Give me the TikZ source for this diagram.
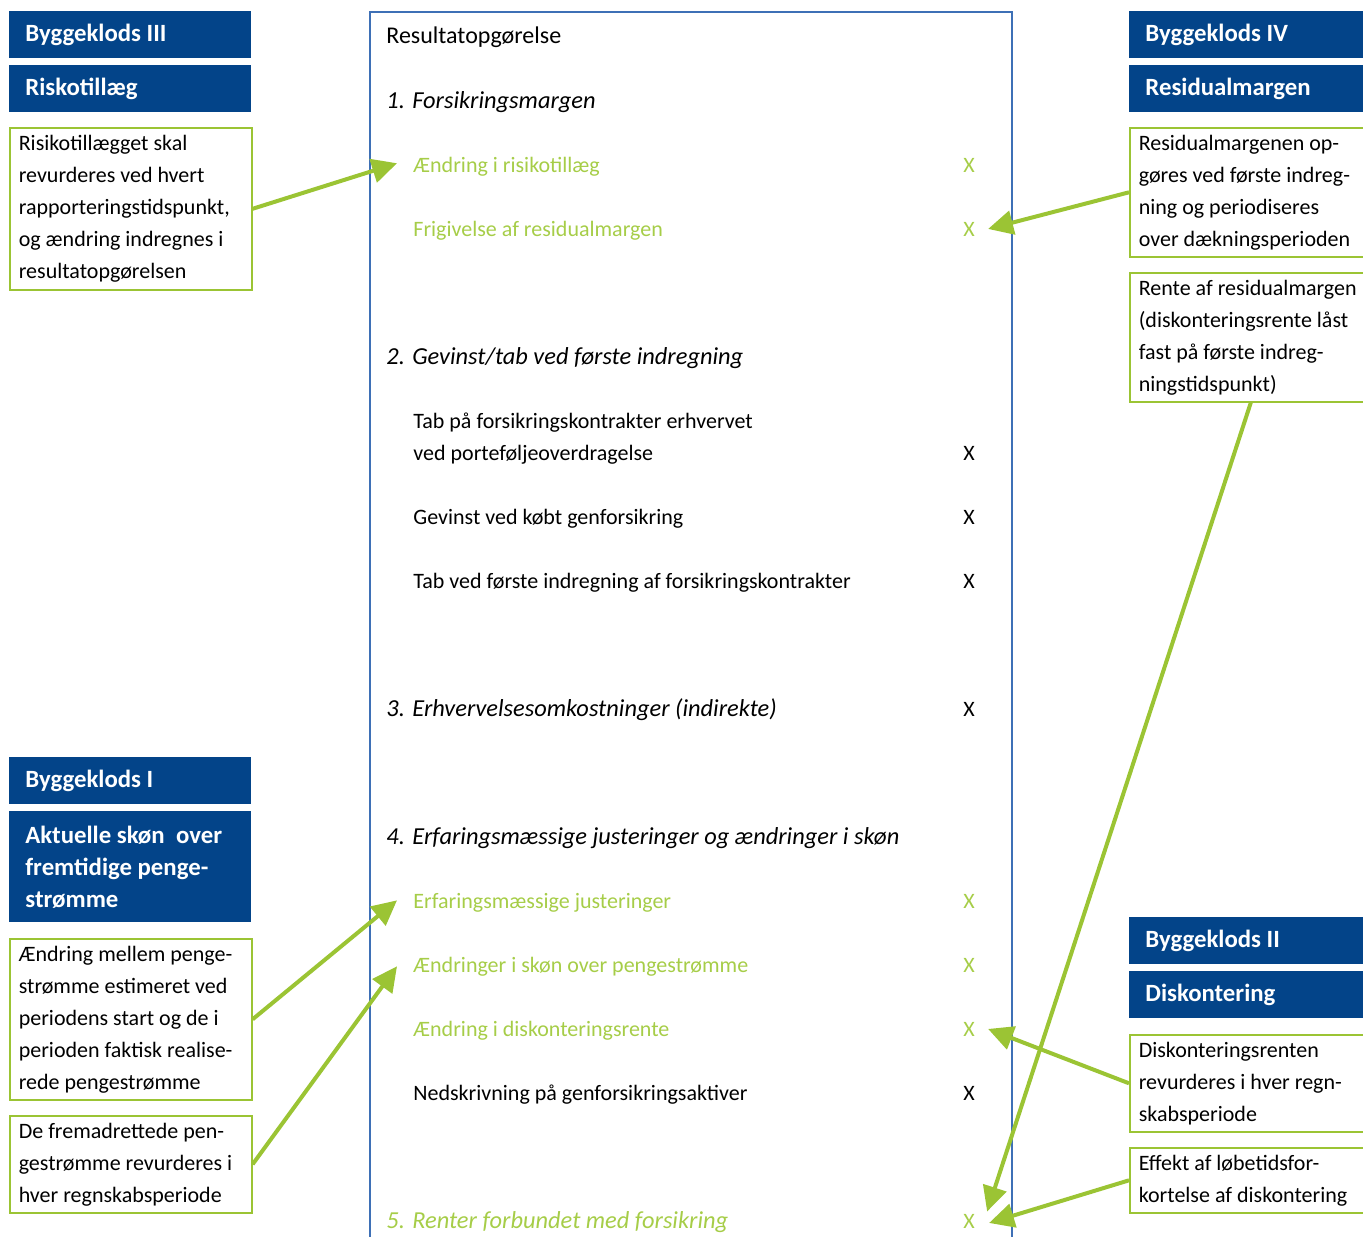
\documentclass[tikz,border=0pt]{standalone}
\usepackage{fontspec}
\setmainfont{Carlito}
\usepackage{tikz}
\usetikzlibrary{arrows.meta,calc}
\definecolor{klodsblue}{RGB}{3,68,137}
\definecolor{klodsgreen}{RGB}{155,196,52}
\definecolor{postgreen}{RGB}{166,205,72}
\definecolor{rammeblue}{RGB}{62,112,182}

\begin{document}
\fontsize{11}{16}\selectfont
\begin{tikzpicture}[x=0.5pt,y=-0.5pt,
    klods/.style={fill=klodsblue, text=white, font=\bfseries\fontsize{12.4}{16}\selectfont, anchor=north west,
        minimum width=121pt, minimum height=23.5pt, text width=105pt, inner xsep=8pt, align=flush left},
    note/.style={draw=klodsgreen, line width=0.8pt, anchor=north west,
        text width=112pt, inner xsep=4.5pt, inner ysep=2pt, align=flush left},
    post/.style={anchor=base west, inner sep=0pt},
    afsnit/.style={post, font=\itshape\fontsize{12.2}{16}\selectfont},
    tal/.style={anchor=base, inner sep=0pt},
    gron/.style={text=postgreen},
    pointer/.style={klodsgreen, line width=2pt, -{Triangle[length=12.5pt,width=12pt]}}]
\clip (0,0) rectangle (1363,1236);
\draw[rammeblue, line width=0.7pt]
    (370,1250)--(370,12)--(1012,12)--(1012,1250);
\node[klods] (klodsIII) at (9,11) {Byggeklods III};
\node[klods] (risktitel) at (9,65) {Riskotillæg};
\node[note, minimum height=81pt] (risknote) at (9,127)
    {Risikotillægget skal\\revurderes ved hvert\\rapporteringstidspunkt,\\og ændring indregnes i\\resultatopgørelsen};
\node[klods] (klodsI) at (9,757) {Byggeklods I};
\node[klods, minimum height=55.5pt] (aktueltitel) at (9,811)
    {Aktuelle skøn~ over\\fremtidige penge-\\strømme};
\node[note, minimum height=80.5pt] (aendnote) at (9,938)
    {Ændring mellem penge-\\strømme estimeret ved\\periodens start og de i\\perioden faktisk realise-\\rede pengestrømme};
\node[note, minimum height=48.5pt] (fremnote) at (9,1115)
    {De fremadrettede pen-\\gestrømme revurderes i\\hver regnskabsperiode};
\node[klods] (klodsIV) at (1129,11) {Byggeklods IV};
\node[klods] (residtitel) at (1129,65) {Residualmargen};
\node[note, minimum height=64.5pt] (residnote) at (1129,127)
    {Residualmargenen op-\\gøres ved første indreg-\\ning og periodiseres\\over dækningsperioden};
\node[note, minimum height=64.5pt] (rentenote) at (1129,272)
    {Rente af residualmargen\\(diskonteringsrente låst\\fast på første indreg-\\ningstidspunkt)};
\node[klods] (klodsII) at (1129,917) {Byggeklods II};
\node[klods] (diskonttitel) at (1129,971) {Diskontering};
\node[note, minimum height=48.5pt] (diskontnote) at (1129,1034)
    {Diskonteringsrenten\\revurderes i hver regn-\\skabsperiode};
\node[note, minimum height=32.5pt] (effektnote) at (1129,1147)
    {Effekt af løbetidsfor-\\kortelse af diskontering};
\node[post, font=\fontsize{12}{16}\selectfont] (titel) at (386,44) {Resultatopgørelse};
\node[afsnit] (afsnit1) at (386,108) {1. Forsikringsmargen};
\node[post, gron] (aendrisk) at (413,172) {Ændring i risikotillæg};
\node[tal, gron] (xaendrisk) at (969,172) {X};
\node[post, gron] (frigiv) at (413,236) {Frigivelse af residualmargen};
\node[tal, gron] (xfrigiv) at (969,236) {X};
\node[afsnit] (afsnit2) at (386,364) {2. Gevinst/tab ved første indregning};
\node[post] (tabport1) at (413,428) {Tab på forsikringskontrakter erhvervet};
\node[post] (tabport2) at (413,460) {ved porteføljeoverdragelse};
\node[tal] (xtabport) at (969,460) {X};
\node[post] (gevinst) at (413,524) {Gevinst ved købt genforsikring};
\node[tal] (xgevinst) at (969,524) {X};
\node[post] (tabfoerste) at (413,588) {Tab ved første indregning af forsikringskontrakter};
\node[tal] (xtabfoerste) at (969,588) {X};
\node[afsnit] (afsnit3) at (386,716) {3. Erhvervelsesomkostninger (indirekte)};
\node[tal] (xafsnit3) at (969,716) {X};
\node[afsnit] (afsnit4) at (386,844) {4. Erfaringsmæssige justeringer og ændringer i skøn};
\node[post, gron] (erfjust) at (413,908) {Erfaringsmæssige justeringer};
\node[tal, gron] (xerfjust) at (969,908) {X};
\node[post, gron] (aendskoen) at (413,972) {Ændringer i skøn over pengestrømme};
\node[tal, gron] (xaendskoen) at (969,972) {X};
\node[post, gron] (aenddisk) at (413,1036) {Ændring i diskonteringsrente};
\node[tal, gron] (xaenddisk) at (969,1036) {X};
\node[post] (nedskriv) at (413,1100) {Nedskrivning på genforsikringsaktiver};
\node[tal] (xnedskriv) at (969,1100) {X};
\node[afsnit, gron] (renter) at (386,1228) {5. Renter forbundet med forsikring};
\node[tal, gron] (xrenter) at (969,1228) {X};
\draw[pointer] (risknote.east) -- ($(aendrisk.west)+(-16,-3)$);
\draw[pointer] (residnote.west) -- ($(xfrigiv.east)+(13,0)$);
\draw[pointer] (rentenote.south) -- ($(xrenter.north east)+(12,-2)$);
\draw[pointer] (aendnote.east) -- ($(erfjust.west)+(-16,-2)$);
\draw[pointer] (fremnote.east) -- ($(aendskoen.west)+(-16,0)$);
\draw[pointer] (diskontnote.west) -- ($(xaenddisk.east)+(13,0)$);
\draw[pointer] (effektnote.west) -- ($(xrenter.east)+(14,2)$);
\end{tikzpicture}
\end{document}
